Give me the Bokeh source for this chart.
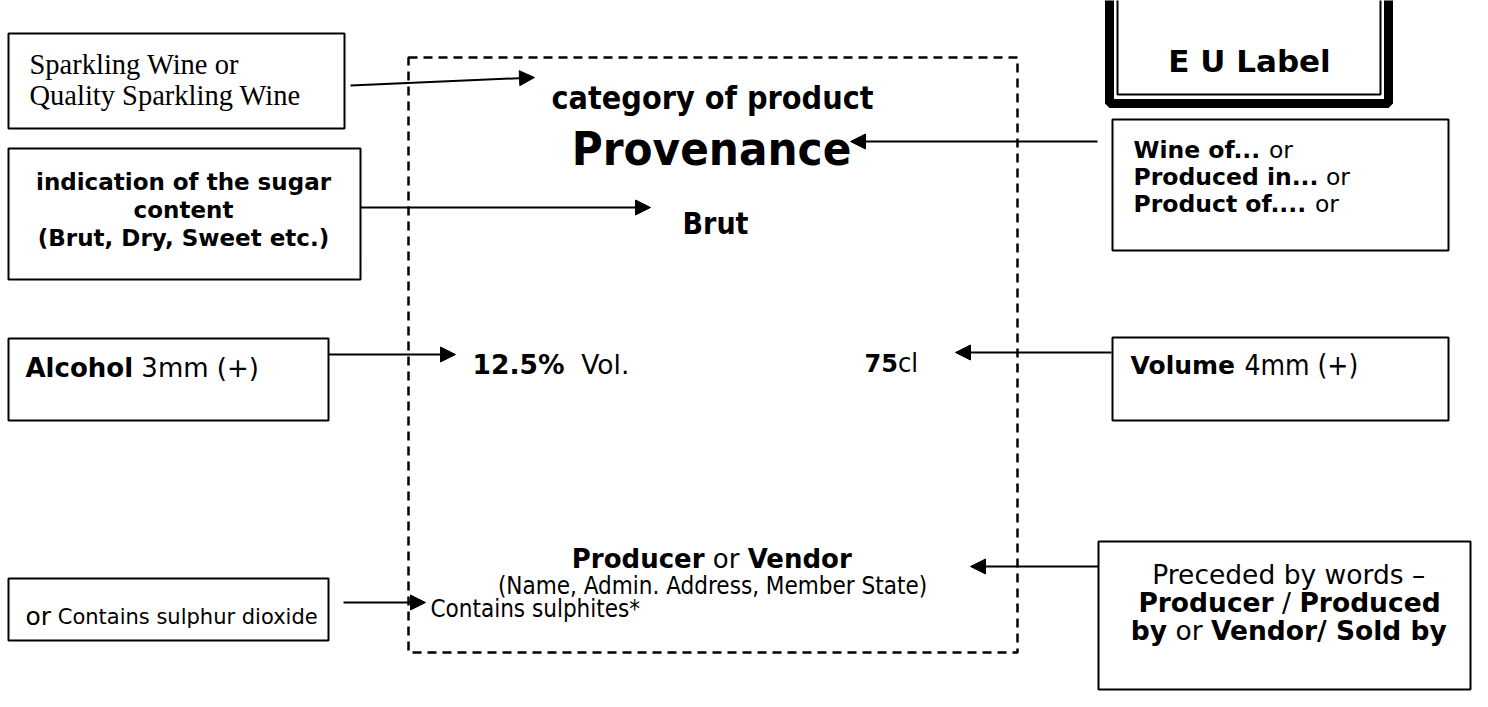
import struct, glob
from bokeh.plotting import figure
from bokeh.models import Range1d, Arrow, NormalHead
from bokeh.core.properties import value
from bokeh.embed import file_html
from bokeh.resources import INLINE

# ---------------- data (texts) ----------------
box_a_lines = ["Sparkling Wine or", "Quality Sparkling Wine"]
box_b_lines = ["indication of the sugar", "content", "(Brut, Dry, Sweet etc.)"]
box_c_lines = [[("Wine of...", "b"), (" or", "r")],
               [("Produced in...", "b"), (" or", "r")],
               [("Product of....", "b"), (" or", "r")]]
eu_title = "E U Label"
label_category = "category of product"
label_provenance = "Provenance"
label_sugar = "Brut"
alcohol_parts = [("12.5%", "b"), ("  Vol.", "r")]
volume_parts = [("75", "b"), ("cl", "c")]
box_d_parts = [("Alcohol", "b"), (" 3mm (+)", "r")]
box_e_parts = [("Volume", "b"), (" 4mm (+)", "c")]
producer_parts = [("Producer", "b"), (" or ", "r"), ("Vendor", "b")]
producer_sub = "(Name, Admin. Address, Member State)"
sulphites = "Contains sulphites*"
box_f_parts = [("or", "big"), (" Contains sulphur dioxide", "r")]
box_g_lines = [[("Preceded by words \u2013", "r")],
               [("Producer", "b"), (" / ", "r"), ("Produced", "b")],
               [("by", "b"), (" or ", "r"), ("Vendor/ Sold by", "b")]]

# ---------------- font metrics (for placing mixed bold/regular runs) ----------------
def load_metrics(name):
    paths = []
    for root in ("/usr/share/fonts", "/usr/local/share/fonts"):
        paths += glob.glob(root + "/**/" + name, recursive=True)
    if not paths:
        return None
    try:
        data = open(paths[0], "rb").read()
        nt = struct.unpack(">H", data[4:6])[0]
        tabs = {}
        for i in range(nt):
            tag, cs, off, ln = struct.unpack(">4sIII", data[12 + 16 * i:28 + 16 * i])
            tabs[tag.decode("latin1")] = off
        head = tabs["head"]
        upem = struct.unpack(">H", data[head + 18:head + 20])[0]
        hhea = tabs["hhea"]
        nhm = struct.unpack(">H", data[hhea + 34:hhea + 36])[0]
        hm = tabs["hmtx"]
        adv = [struct.unpack(">H", data[hm + 4 * i:hm + 4 * i + 2])[0] for i in range(nhm)]
        cm = tabs["cmap"]
        n = struct.unpack(">H", data[cm + 2:cm + 4])[0]
        sub = None
        for i in range(n):
            pid, eid, off = struct.unpack(">HHI", data[cm + 4 + 8 * i:cm + 12 + 8 * i])
            fmt = struct.unpack(">H", data[cm + off:cm + off + 2])[0]
            if pid == 3 and eid == 1 and fmt == 4:
                sub = cm + off
        sx2 = struct.unpack(">H", data[sub + 6:sub + 8])[0]
        seg = sx2 // 2
        ends = struct.unpack(">%dH" % seg, data[sub + 14:sub + 14 + sx2])
        starts = struct.unpack(">%dH" % seg, data[sub + 16 + sx2:sub + 16 + 2 * sx2])
        deltas = struct.unpack(">%dh" % seg, data[sub + 16 + 2 * sx2:sub + 16 + 3 * sx2])
        rp = sub + 16 + 3 * sx2
        roffs = struct.unpack(">%dH" % seg, data[rp:rp + sx2])

        def gid(c):
            for i in range(seg):
                if ends[i] >= c:
                    if starts[i] > c:
                        return 0
                    if roffs[i] == 0:
                        return (c + deltas[i]) & 0xFFFF
                    addr = rp + 2 * i + roffs[i] + 2 * (c - starts[i])
                    g = struct.unpack(">H", data[addr:addr + 2])[0]
                    return (g + deltas[i]) & 0xFFFF if g else 0
            return 0

        def width(s, size):
            return sum(adv[min(gid(ord(ch)), nhm - 1)] for ch in s) / upem * size
        return width
    except Exception:
        return None

def fallback(factor):
    return lambda s, size: len(s) * size * factor

W_REG = load_metrics("DejaVuSans.ttf") or fallback(0.60)
W_BOLD = load_metrics("DejaVuSans-Bold.ttf") or fallback(0.68)
W_COND = load_metrics("DejaVuSansCondensed.ttf") or fallback(0.55)

def style_of(key, size):
    if key == "b":
        return ("DejaVu Sans", "bold", size, W_BOLD)
    if key == "c":
        return ("DejaVu Sans Condensed", "normal", size + 3, W_COND)
    if key == "big":
        return ("DejaVu Sans", "normal", size + 4, W_REG)
    return ("DejaVu Sans", "normal", size, W_REG)

# ---------------- canvas (data units = pixels, y downwards) ----------------
PW, PH = 1472, 691
p = figure(width=PW, height=PH, output_backend="svg", toolbar_location=None,
           x_range=Range1d(0, PW), y_range=Range1d(PH, 0),
           min_border=0, tools="")
p.axis.visible = False
p.grid.visible = False
p.outline_line_color = None
p.background_fill_color = "white"

def box(x0, y0, x1, y1, lw=2):
    p.quad(left=[x0], right=[x1], top=[y0], bottom=[y1], fill_color=None,
           line_color="black", line_width=lw)

def txt(x, y, s, font="DejaVu Sans", size=23, style="normal", align="left"):
    p.text(x=[x], y=[y], text=[s], text_font=value(font), text_font_size=value("%gpx" % size),
           text_font_style=style, text_align=align, text_baseline="alphabetic", text_color="black")

def rich(x, y, parts, size, align="left"):
    items = [(s,) + style_of(k, size) for s, k in parts]
    total = sum(fn(s, sz) for s, f, st, sz, fn in items)
    cx = x - total / 2 if align == "center" else x
    for s, f, st, sz, fn in items:
        core = s.strip(" ")
        lead = s[:len(s) - len(s.lstrip(" "))]
        if core:
            txt(cx + fn(lead, sz), y, core, f, sz, st)
        cx += fn(s, sz)

def arrow(x0, y0, x1, y1):
    p.add_layout(Arrow(end=NormalHead(size=15, fill_color="black", line_color="black", line_width=1),
                       x_start=x0, y_start=y0, x_end=x1, y_end=y1,
                       line_color="black", line_width=2))

# dashed label outline
p.quad(left=[408], right=[1017], top=[57], bottom=[652], fill_color=None,
       line_color="black", line_width=2.5, line_dash="9 6")

# Box A
box(8, 33, 344, 128)
for i, s in enumerate(box_a_lines):
    txt(29, 64 + 31 * i, s, "Liberation Serif", 28.5)
arrow(350, 85, 534, 77)

# label centre texts
txt(712, 97, label_category, "DejaVu Sans Condensed", 32, "bold", "center")
txt(711, 148, label_provenance, "DejaVu Sans Condensed", 47, "bold", "center")
txt(715, 223, label_sugar, "DejaVu Sans Condensed", 30, "bold", "center")

# E U label box (double frame, top cut off)
p.quad(left=[1109], right=[1388], top=[-10], bottom=[103], fill_color=None,
       line_color="black", line_width=9)
p.quad(left=[1117], right=[1380], top=[-10], bottom=[94], fill_color=None,
       line_color="black", line_width=2)
txt(1249, 60, eu_title, "DejaVu Sans", 31, "bold", "center")

# Box C
box(1112, 119, 1448, 250)
for i, parts in enumerate(box_c_lines):
    rich(1133, 149 + 27 * i, parts, 23.5)
arrow(1097, 141, 850, 141)

# Box B
box(8, 148, 360, 279)
for i, s in enumerate(box_b_lines):
    txt(183, 181 + 28 * i, s, "DejaVu Sans", 23, "bold", "center")
arrow(360, 207, 650, 207)

# alcohol / volume
rich(472, 364, alcohol_parts, 26.5)
rich(864, 362, volume_parts, 24)
box(8, 338, 328, 420)
rich(25, 367, box_d_parts, 26)
arrow(328, 354, 455, 354)
box(1112, 337, 1448, 420)
rich(1130, 365, box_e_parts, 25)
arrow(1111, 352, 955, 352)

# producer
rich(712, 558, producer_parts, 26, "center")
txt(712, 585, producer_sub, "DejaVu Sans Condensed", 24, "normal", "center")
txt(430, 608, sulphites, "DejaVu Sans Condensed", 24)

# Box F
box(8, 578, 328, 640)
rich(25, 616, box_f_parts, 21)
arrow(343, 602, 425, 602)

# Box G
box(1098, 541, 1470, 689)
for i, parts in enumerate(box_g_lines):
    rich(1289, 574 + 28 * i, parts, 26.5, "center")
arrow(1098, 566, 970, 566)

open("out.html", "w").write(file_html(p, INLINE))
